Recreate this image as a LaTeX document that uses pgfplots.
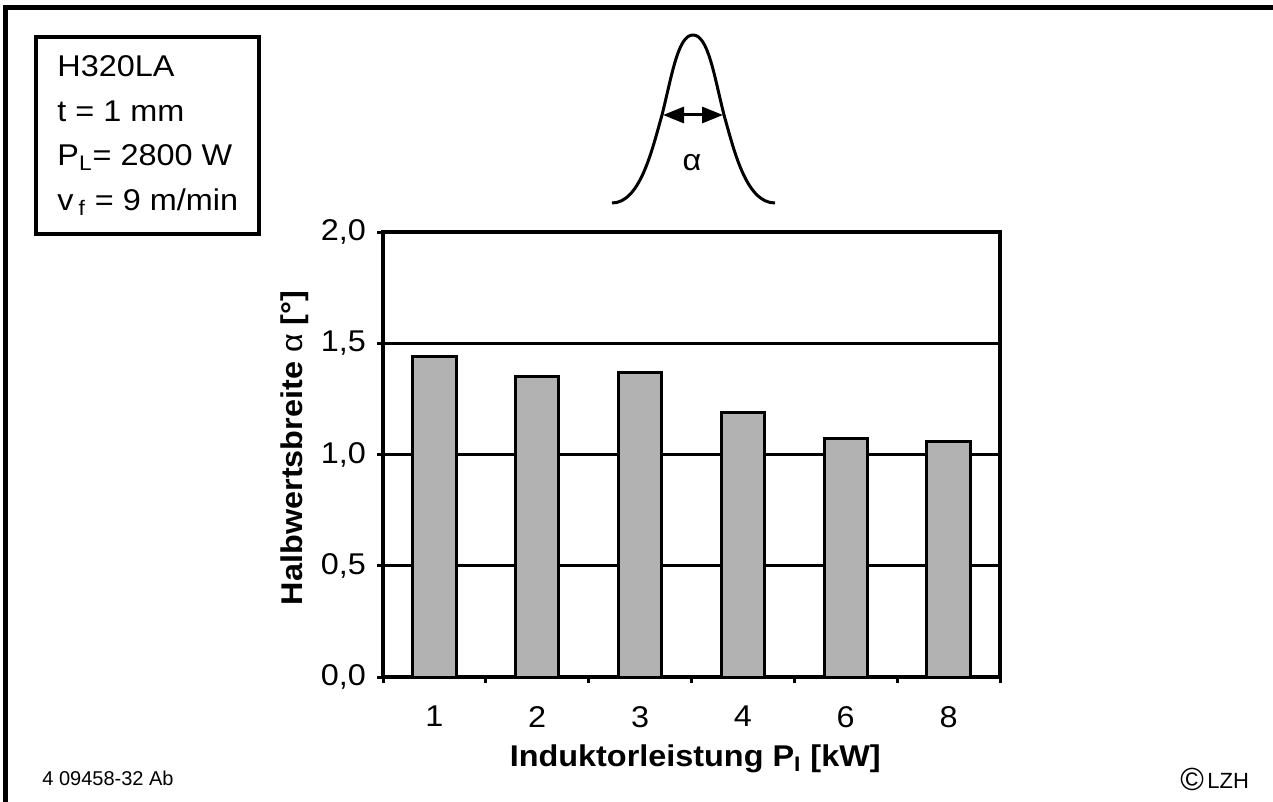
\documentclass[border=0pt]{standalone}
\usepackage{fontspec}
\setmainfont{Liberation Sans}[FakeStretch=1.08]
\newfontfamily\plainfont{Liberation Sans}
\usepackage{pgfplots}
\pgfplotsset{compat=1.18}
\usetikzlibrary{arrows.meta}
\definecolor{bargray}{RGB}{178,178,178}

\begin{document}
\begin{tikzpicture}
% frame, info box and sketch, in pixel units of the reference
\begin{scope}[x=0.5pt,y=-0.5pt]
  \useasboundingbox (0,0) rectangle (1273,802);
  \draw[line width=2.5pt] (5,802) -- (5,8) -- (1273,8);
  \draw[line width=2pt] (36,37) rectangle (259,234);
  \begin{scope}[every node/.style={anchor=base west, inner sep=0pt, font=\fontsize{15}{17}\selectfont}]
    \node at (57,77) {H320LA};
    \node at (57,121.5) {t = 1 mm};
    \node at (57,166) {P\textsubscript{L}= 2800 W};
    \node at (57,210.5) {v\,\textsubscript{f} = 9 m/min};
  \end{scope}
  \draw[line width=1.5pt] (612,203) .. controls (640,203) and (652,150) .. (662,115)
    .. controls (672,75) and (678,35) .. (693,35)
    .. controls (708,35) and (714,75) .. (724,115)
    .. controls (734,150) and (746,203) .. (775,203);
  \draw[line width=1.5pt, {Triangle[length=10.5pt,width=8pt]}-{Triangle[length=10.5pt,width=8pt]}] (663,115) -- (723,115);
  \node[font=\fontsize{15}{17}\selectfont] at (692,163) {α};
  \node[anchor=base west, inner sep=0pt, font=\plainfont\fontsize{10}{12}\selectfont] at (42,785) {4 09458-32 Ab};
  \node[anchor=base west, inner sep=0pt, font=\plainfont\fontsize{16}{18}\selectfont] at (1180,790) {\textcopyright};
  \node[anchor=base west, inner sep=0pt, font=\plainfont\fontsize{11}{13}\selectfont] at (1207,788) {LZH};
\end{scope}

\begin{axis}[
  at={(191.5pt,-338.5pt)}, anchor=south west,
  scale only axis, width=308.5pt, height=222.5pt,
  xmin=-0.5, xmax=5.5, ymin=0, ymax=2,
  xtick={-0.5,0.5,1.5,2.5,3.5,4.5,5.5},
  x tick label as interval,
  xticklabels={1,2,3,4,6,8},
  ytick={0,0.5,1,1.5,2},
  ymajorgrids, grid style={black, line width=1.5pt},
  axis line style={line width=2pt},
  tick align=outside, tick pos=left,
  major tick length=3pt,
  tick style={black, line width=1.5pt},
  tick label style={font=\fontsize{15}{17}\selectfont},
  /pgf/number format/assume math mode=true,
  yticklabel style={xshift=-2pt, /pgf/number format/.cd, fixed, fixed zerofill, precision=1, use comma},
  xticklabel style={yshift=-8pt},
  xlabel={\textbf{Induktorleistung P\textsubscript{I} [kW]}},
  ylabel={\textbf{Halbwertsbreite} α \textbf{[°]}},
  label style={font=\fontsize{15}{17}\selectfont},
  xlabel style={at={(axis description cs:0.506,-0.2022)}, anchor=base},
  ylabel style={at={(axis description cs:-0.1297,0.515)}, anchor=base},
]
\addplot[ybar, bar width=0.42, fill=bargray, draw=black, line width=1.5pt]
  coordinates {(0,1.44) (1,1.35) (2,1.37) (3,1.19) (4,1.07) (5,1.06)};
\end{axis}
\end{tikzpicture}
\end{document}
